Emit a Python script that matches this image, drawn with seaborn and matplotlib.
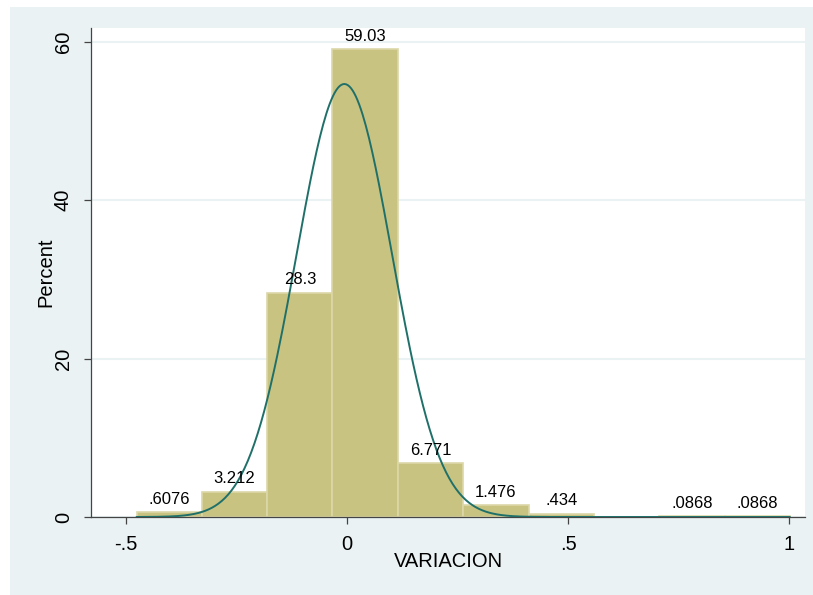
import numpy as np
import pandas as pd
import seaborn as sns
import matplotlib.pyplot as plt
from matplotlib.patches import Rectangle

# histogram of VARIACION (percent per bin)
bin_edges = [-0.476, -0.328, -0.180, -0.033, 0.115, 0.263, 0.411, 0.559, 0.706, 0.854, 1.002]
percent = [0.6076, 3.212, 28.3, 59.03, 6.771, 1.476, 0.434, 0.0, 0.0868, 0.0868]

# normal overlay parameters
norm_mean = -0.006
norm_sd = 0.108

x_ticks = [-0.5, 0, 0.5, 1]
x_tick_labels = ["-.5", "0", ".5", "1"]
y_ticks = [0, 20, 40, 60]

sns.set_style("white")
plt.rcParams["font.family"] = ["Liberation Sans", "DejaVu Sans"]
plt.rcParams["text.color"] = "black"
plt.rcParams["axes.labelcolor"] = "black"
plt.rcParams["xtick.color"] = "black"
plt.rcParams["ytick.color"] = "black"

bg = "#EAF2F3"
bar_fill = "#C9C382"
bar_edge = "#DCD7A8"
curve_col = "#20706A"

fig = plt.figure(figsize=(8.13, 5.95), dpi=100)
fig.patch.set_facecolor("white")
fig.add_artist(Rectangle((10 / 813, -0.1), 1.1, 588 / 595 + 0.1, transform=fig.transFigure,
                         facecolor=bg, edgecolor="none", zorder=-10))
ax = fig.add_axes([91 / 813, 78 / 595, 714 / 813, 489 / 595])
ax.set_facecolor("white")

centers = [(a + b) / 2 for a, b in zip(bin_edges[:-1], bin_edges[1:])]
df = pd.DataFrame({"VARIACION": centers, "pct": percent})

sns.histplot(data=df, x="VARIACION", weights="pct", bins=bin_edges,
             color=bar_fill, alpha=1, edgecolor=bar_edge, linewidth=1.2, ax=ax, zorder=2)

# normal density scaled to percent per bin
width = bin_edges[1] - bin_edges[0]
xs = np.linspace(bin_edges[0], bin_edges[-1], 400)
ys = 100 * width * np.exp(-0.5 * ((xs - norm_mean) / norm_sd) ** 2) / (norm_sd * np.sqrt(2 * np.pi))
sns.lineplot(x=xs, y=ys, color=curve_col, linewidth=1.4, ax=ax, zorder=3)

def stata_fmt(v):
    if v == 0:
        return ""
    s = f"{v:.4g}"
    return s[1:] if s.startswith("0.") else s

ax.bar_label(ax.containers[0], labels=[stata_fmt(v) for v in percent],
             padding=4, fontsize=12, color="black")

ax.set_xlim(-0.579, 1.036)
ax.set_ylim(0, 61.74)
ax.set_xticks(x_ticks)
ax.set_xticklabels(x_tick_labels)
ax.set_yticks(y_ticks)
ax.yaxis.grid(True, color=bg, linewidth=1.5, zorder=0)
ax.set_axisbelow(True)

for side in ["top", "right"]:
    ax.spines[side].set_visible(False)
for side in ["left", "bottom"]:
    ax.spines[side].set_color("#444444")
    ax.spines[side].set_linewidth(0.9)

ax.tick_params(axis="both", direction="out", length=5, width=0.9, color="#444444",
               labelcolor="black", labelsize=14.5, pad=8, bottom=True, left=True)
ax.tick_params(axis="y", labelrotation=90)
for lab in ax.get_yticklabels():
    lab.set_va("center")

ax.set_xlabel("VARIACION", fontsize=14.5)
ax.set_ylabel("Percent", fontsize=14.5)
ax.xaxis.set_label_coords(0.5, -0.072)
ax.yaxis.set_label_coords(-0.05, 0.5)

fig.savefig("out.png", dpi=100, facecolor=fig.get_facecolor())
